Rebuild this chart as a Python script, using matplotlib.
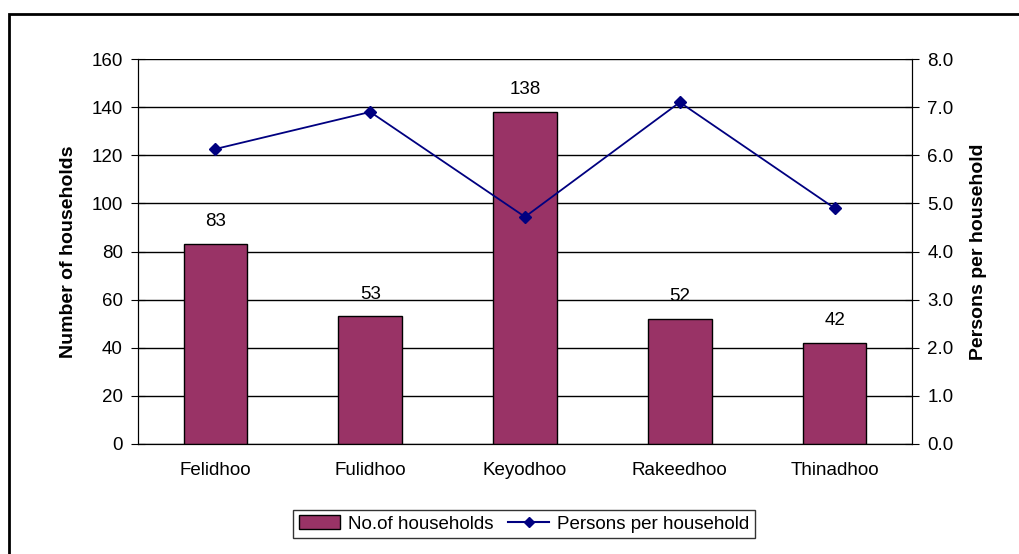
import matplotlib.pyplot as plt
from matplotlib.patches import Rectangle
from matplotlib.lines import Line2D

plt.rcParams['font.family'] = ['Liberation Sans', 'DejaVu Sans']

islands = ["Felidhoo", "Fulidhoo", "Keyodhoo", "Rakeedhoo", "Thinadhoo"]
households = [83, 53, 138, 52, 42]
persons_per_household = [6.13, 6.9, 4.72, 7.1, 4.9]

bar_color = "#993366"
line_color = "#000080"
fs = 13.5

fig = plt.figure(figsize=(10.19, 5.54), dpi=100)

# outer chart border (only top/left visible in the reference)
fig.patches.append(Rectangle((9 / 1019, -0.1), 1.2, (554 - 14) / 554 + 0.1,
                             transform=fig.transFigure, fill=False,
                             edgecolor="black", linewidth=2))

ax = fig.add_axes([138 / 1019, 110 / 554, 774 / 1019, 385 / 554])
x = range(len(islands))
bars = ax.bar(x, households, width=0.41, color=bar_color, edgecolor="black",
              linewidth=1, zorder=3)
for b, v in zip(bars, households):
    ax.annotate(str(v), (b.get_x() + b.get_width() / 2, v), xytext=(0, 10),
                textcoords="offset points", ha="center", va="bottom", fontsize=fs)

ax.set_xlim(-0.5, len(islands) - 0.5)
ax.set_ylim(0, 160)
ax.set_yticks(range(0, 161, 20))
ax.set_xticks(list(x))
ax.set_xticklabels(islands)
ax.tick_params(axis="y", direction="inout", length=10, labelsize=fs, pad=6)
ax.tick_params(axis="x", length=0, labelsize=fs, pad=13)
ax.yaxis.grid(True, color="black", linewidth=1)
ax.set_axisbelow(True)
ax.spines["top"].set_visible(False)
ax.set_ylabel("Number of households", fontsize=14, fontweight="bold", labelpad=10)

ax2 = ax.twinx()
ax2.plot(list(x), persons_per_household, color=line_color, marker="D",
         markersize=6, linewidth=1.3, zorder=4)
ax2.set_ylim(0, 8)
ax2.set_yticks([i * 1.0 for i in range(9)])
ax2.set_yticklabels([f"{i:.1f}" for i in range(9)])
ax2.tick_params(axis="y", direction="inout", length=10, labelsize=fs, pad=6)
ax2.spines["top"].set_visible(False)
ax2.set_ylabel("Persons per household", fontsize=14, fontweight="bold", labelpad=12)

handles = [Rectangle((0, 0), 1, 1, facecolor=bar_color, edgecolor="black"),
           Line2D([], [], color=line_color, marker="D", markersize=5)]
leg = fig.legend(handles, ["No.of households", "Persons per household"],
                 loc="center", bbox_to_anchor=(524 / 1019, 1 - 524 / 554),
                 ncol=2, fontsize=fs, frameon=True, fancybox=False,
                 handlelength=2.2, columnspacing=0.8, handletextpad=0.4,
                 borderpad=0.3)
leg.get_frame().set_edgecolor("black")
leg.get_frame().set_linewidth(1)

fig.savefig("out.png", dpi=100)
